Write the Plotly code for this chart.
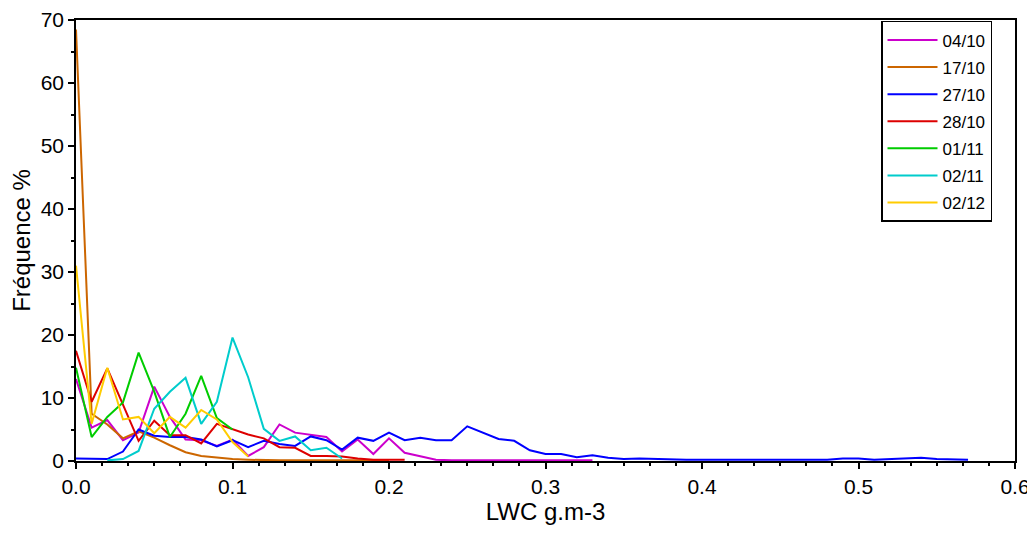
import plotly.graph_objects as go

# LWC bins (g.m-3), step 0.01
def bins(n):
    return [round(i * 0.01, 2) for i in range(n)]

labels = ["04/10", "17/10", "27/10", "28/10", "01/11", "02/11", "02/12"]
colors = ["#CC00CC", "#CC6600", "#0000FF", "#DD0000", "#00CC00", "#00CCCC", "#FFCC00"]

s_0410 = [13.0, 5.3, 6.5, 3.3, 4.5, 11.8, 7.0, 3.4, 3.3, 2.4, 3.4, 0.8, 2.2, 5.8, 4.5, 4.1,
          3.8, 1.5, 3.4, 1.1, 3.6, 1.3, 0.8, 0.2, 0.1, 0.1, 0.1, 0.1, 0.1, 0.1, 0.1, 0.1, 0.1, 0.1]
s_1710 = [68.5, 7.5, 5.8, 3.6, 4.7, 3.7, 2.5, 1.4, 0.8, 0.5, 0.3, 0.2, 0.1, 0.1, 0.1, 0.1,
          0.1, 0.1, 0.1, 0.1, 0.1]
s_2710 = [0.4, 0.4, 0.3, 1.5, 5.0, 4.0, 3.8, 3.8, 3.4, 2.3, 3.3, 2.2, 3.2, 2.7, 2.4, 3.9,
          3.3, 1.8, 3.7, 3.2, 4.5, 3.3, 3.7, 3.3, 3.3, 5.5, 4.5, 3.5, 3.2, 1.7, 1.1, 1.1,
          0.6, 0.9, 0.5, 0.3, 0.4, 0.3, 0.2, 0.2, 0.2, 0.2, 0.2, 0.2, 0.2, 0.2, 0.2, 0.2,
          0.2, 0.4, 0.4, 0.2, 0.3, 0.3, 0.5, 0.3, 0.2, 0.2]
s_2810 = [17.5, 9.4, 14.7, 9.0, 3.2, 6.4, 4.1, 4.1, 2.8, 5.9, 5.0, 4.2, 3.6, 2.2, 2.1, 0.8,
          0.8, 0.7, 0.4, 0.2, 0.2, 0.2]
s_0111 = [14.8, 3.8, 7.0, 9.3, 17.2, 11.0, 3.8, 7.5, 13.5, 6.8, 5.0]
s_0211 = [0.1, 0.3, 1.6, 8.3, 11.0, 13.2, 5.9, 9.4, 19.6, 13.3, 5.1, 3.2, 3.9, 1.7, 2.1, 0.4]
s_0211_start = 2  # first bin index of 02/11
s_0212 = [31.0, 5.9, 14.8, 6.6, 7.0, 4.4, 7.0, 5.3, 8.1, 6.6, 3.0, 0.7]

x_0211 = [round((i + s_0211_start) * 0.01, 2) for i in range(len(s_0211))]
series = [
    (bins(len(s_0410)), s_0410),
    (bins(len(s_1710)), s_1710),
    (bins(len(s_2710)), s_2710),
    (bins(len(s_2810)), s_2810),
    (bins(len(s_0111)), s_0111),
    (x_0211, s_0211),
    (bins(len(s_0212)), s_0212),
]

fig = go.Figure()
for (xs, ys), name, col in zip(series, labels, colors):
    fig.add_trace(go.Scatter(x=xs, y=ys, mode="lines", name=name, legendgroup=name,
                             line=dict(color=col, width=2)))

font_family = "Arial, Liberation Sans, sans-serif"
# the page body has an 8px margin, so the figure is 8px smaller than the window
fig.update_layout(
    width=1027, height=528,
    margin=dict(l=68, r=20, t=12, b=75),
    paper_bgcolor="white", plot_bgcolor="white",
    font=dict(family=font_family, color="black", size=21),
    showlegend=True,
    legend=dict(x=0.8573, y=0.998, xanchor="left", yanchor="top",
                bgcolor="white", bordercolor="black", borderwidth=1.5,
                font=dict(size=17, family=font_family),
                traceorder="grouped", tracegroupgap=2,
                itemwidth=50),
    xaxis=dict(range=[0, 0.6], dtick=0.1, tickformat=".1f", automargin=False,
               ticklabeloverflow="allow",
               showgrid=False, zeroline=False,
               showline=True, linecolor="black", linewidth=1.5, mirror=True,
               ticks="outside", ticklen=6, tickwidth=1.5, tickcolor="black",
               minor=dict(dtick=0.1 / 6, ticks="outside", ticklen=3, tickcolor="black", tickwidth=1.5),
               title=dict(text="LWC g.m-3", font=dict(size=24), standoff=5)),
    yaxis=dict(range=[0, 70], dtick=10, automargin=False,
               ticklabeloverflow="allow",
               showgrid=False, zeroline=False,
               showline=True, linecolor="black", linewidth=1.5, mirror=True,
               ticks="outside", ticklen=6, tickwidth=1.5, tickcolor="black",
               minor=dict(dtick=5, ticks="outside", ticklen=3, tickcolor="black", tickwidth=1.5),
               title=dict(text="Fréquence %", font=dict(size=24), standoff=5)),
)

fig.write_html("out.html")
